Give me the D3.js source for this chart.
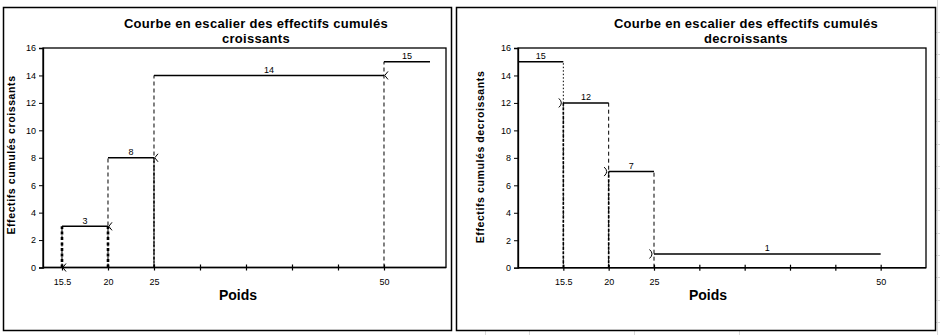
<!DOCTYPE html>
<html>
<head>
<meta charset="utf-8">
<script src="https://cdn.jsdelivr.net/npm/d3@7"></script>
<style>
  html, body { margin: 0; padding: 0; background: #fff; }
  svg { display: block; font-family: "Liberation Sans", Arial, sans-serif; }
</style>
</head>
<body>
<svg id="chart" width="940" height="335"></svg>
<script>
// Category axis: class bounds of "Poids" (blank slots keep the spacing)
const categories = ["15.5", "20", "25", "", "", "", "", "50"];   // slots 1..8
const yTicks = [0, 2, 4, 6, 8, 10, 12, 14, 16];

// Increasing cumulative counts: each step starts at a slot and ends at the next bound
const upStart = [1, 2, 3, 8];
const upEnd = [2, 3, 8, 9];
const upValues = [3, 8, 14, 15];

// Decreasing cumulative counts
const downStart = [0, 1, 2, 3];
const downEnd = [1, 2, 3, 8];
const downValues = [15, 12, 7, 1];

const svg = d3.select("#chart");

// faint worksheet grid behind the chart objects
const grid = svg.append("g").attr("stroke", "#d9d9d9").attr("stroke-width", 1);
d3.range(32, 335, 22.3).forEach(y => {
  grid.append("line").attr("x1", 936).attr("x2", 940).attr("y1", Math.round(y) + 0.5).attr("y2", Math.round(y) + 0.5);
});
grid.append("line").attr("x1", 937.5).attr("x2", 937.5).attr("y1", 0).attr("y2", 335);
[485, 529, 634, 739].forEach(x => {
  grid.append("line").attr("x1", x + 0.5).attr("x2", x + 0.5).attr("y1", 331).attr("y2", 335);
});

function drawPanel(opt) {
  const g = svg.append("g");

  // chart frame
  g.append("rect")
    .attr("x", opt.frame[0] + 0.5).attr("y", opt.frame[1] + 0.5)
    .attr("width", opt.frame[2] - opt.frame[0]).attr("height", opt.frame[3] - opt.frame[1])
    .attr("fill", "#fff").attr("stroke", "#000").attr("stroke-width", 1.5);

  const x = d3.scaleLinear().domain(opt.xDomain).range([opt.plot[0], opt.plot[2]]);
  const y = d3.scaleLinear().domain([0, 16]).range([opt.plot[3], opt.plot[1]]);

  // plot area border
  g.append("rect")
    .attr("x", opt.plot[0]).attr("y", opt.plot[1])
    .attr("width", opt.plot[2] - opt.plot[0]).attr("height", opt.plot[3] - opt.plot[1])
    .attr("fill", "none").attr("stroke", "#000").attr("stroke-width", 1.3);

  // y axis
  const yAxis = d3.axisLeft(y).tickValues(yTicks).tickSize(4).tickPadding(3).tickFormat(d3.format("d"));
  const ya = g.append("g").attr("transform", `translate(${opt.plot[0]},0)`).call(yAxis);
  ya.select(".domain").attr("stroke-width", 1.3);
  ya.selectAll("text").attr("font-size", 9).attr("font-family", "Liberation Sans, Arial, sans-serif").attr("fill", "#000");

  // x axis (category slots, ticks crossing the axis line)
  const slots = categories.map((c, i) => i + 1);
  const xAxis = d3.axisBottom(x).tickValues(slots).tickSize(3).tickPadding(8)
    .tickFormat((d, i) => categories[i]);
  const xa = g.append("g").attr("transform", `translate(0,${opt.plot[3]})`).call(xAxis);
  xa.select(".domain").remove();
  xa.selectAll(".tick line").attr("y1", -3).attr("y2", 3).attr("stroke-width", 1.2);
  xa.selectAll("text").attr("font-size", 9).attr("font-family", "Liberation Sans, Arial, sans-serif").attr("fill", "#000");
  g.append("line").attr("x1", opt.plot[0]).attr("x2", opt.plot[2])
    .attr("y1", opt.plot[3]).attr("y2", opt.plot[3]).attr("stroke", "#000").attr("stroke-width", 1.5);

  // titles
  const t = g.append("text").attr("text-anchor", "middle").attr("font-weight", "bold").attr("font-size", 13)
    .attr("letter-spacing", 0.3);
  t.append("tspan").attr("x", opt.titleX).attr("y", 28).text("Courbe en escalier des effectifs cumulés");
  t.append("tspan").attr("x", opt.titleX).attr("y", 43).text(opt.title2);

  g.append("text").attr("x", opt.xTitleX).attr("y", 300).attr("text-anchor", "middle")
    .attr("font-weight", "bold").attr("font-size", 14).text("Poids");

  g.append("text")
    .attr("transform", `translate(${opt.yTitleX},${opt.yTitleY}) rotate(-90)`)
    .attr("text-anchor", "middle").attr("font-weight", "bold").attr("font-size", 10.5)
    .attr("letter-spacing", 0.6)
    .text(opt.yTitle);

  return { g, x, y };
}

// ---- Left: courbe croissante ----
{
  const { g, x, y } = drawPanel({
    frame: [3, 7, 451, 330],
    plot: [43, 48, 446, 267.5],
    xDomain: [0.587, 9.348],
    titleX: 256, title2: "croissants",
    xTitleX: 238,
    yTitle: "Effectifs cumulés croissants", yTitleX: 15, yTitleY: 155
  });

  // vertical risers from the axis up to each step (dashed)
  upStart.forEach((s, i) => {
    g.append("line").attr("x1", x(s)).attr("x2", x(s)).attr("y1", y(0)).attr("y2", y(upValues[i]))
      .attr("stroke", "#000").attr("stroke-width", 1).attr("stroke-dasharray", "4,3");
  });
  // overlapping lower parts of the first risers
  const heavyTop = [upValues[0], upValues[0], upValues[1]];
  heavyTop.forEach((v, i) => {
    const s = upStart[i];
    g.append("line").attr("x1", x(s)).attr("x2", x(s)).attr("y1", y(0)).attr("y2", y(v))
      .attr("stroke", "#000")
      .attr("stroke-width", i < 2 ? 2.6 : 1.4)
      .attr("stroke-dasharray", i < 2 ? "3,2.5" : "3,1");
  });

  // horizontal steps
  upStart.forEach((s, i) => {
    g.append("line").attr("x1", x(s)).attr("x2", x(upEnd[i])).attr("y1", y(upValues[i])).attr("y2", y(upValues[i]))
      .attr("stroke", "#000").attr("stroke-width", 1.5);
    g.append("text").attr("x", (x(s) + x(upEnd[i])) / 2).attr("y", y(upValues[i]) - 2.5)
      .attr("text-anchor", "middle").attr("font-size", 9).text(upValues[i]);
  });

  // open "<" markers at each jump (previous level)
  upStart.forEach((s, i) => {
    const v = i === 0 ? 0 : upValues[i - 1];
    const px = x(s), py = y(v);
    g.append("path").attr("d", `M${px + 4},${py - 4}L${px + 0.8},${py}L${px + 4},${py + 4}`)
      .attr("fill", "none").attr("stroke", "#000").attr("stroke-width", 1);
  });
}

// ---- Right: courbe décroissante ----
{
  const { g, x, y } = drawPanel({
    frame: [456, 7, 935, 330],
    plot: [518, 48, 926, 267.7],
    xDomain: [0, 9],
    titleX: 746, title2: "decroissants",
    xTitleX: 708,
    yTitle: "Effectifs cumulés decroissants", yTitleX: 484, yTitleY: 157
  });

  // vertical drops at the end of each step except the last
  downEnd.slice(0, 3).forEach((e, i) => {
    g.append("line").attr("x1", x(e)).attr("x2", x(e)).attr("y1", y(0)).attr("y2", y(downValues[i]))
      .attr("stroke", "#000").attr("stroke-width", 1)
      .attr("stroke-dasharray", i === 0 ? "1.5,2" : "4,3");
    if (i < 2) {
      g.append("line").attr("x1", x(e)).attr("x2", x(e)).attr("y1", y(0)).attr("y2", y(downValues[i + 1]))
        .attr("stroke", "#000").attr("stroke-width", 1.6).attr("stroke-dasharray", "3,1.5");
    }
  });

  // horizontal steps
  downStart.forEach((s, i) => {
    g.append("line").attr("x1", x(s)).attr("x2", x(downEnd[i])).attr("y1", y(downValues[i])).attr("y2", y(downValues[i]))
      .attr("stroke", "#000").attr("stroke-width", 1.5);
    g.append("text").attr("x", (x(s) + x(downEnd[i])) / 2).attr("y", y(downValues[i]) - 2.5)
      .attr("text-anchor", "middle").attr("font-size", 9).text(downValues[i]);
  });

  // open ")" markers where each lower level starts
  downStart.slice(1).forEach((s, i) => {
    const px = x(s), py = y(downValues[i + 1]);
    g.append("path").attr("d", `M${px - 4.5},${py - 4.5}Q${px + 0.5},${py} ${px - 4.5},${py + 4.5}`)
      .attr("fill", "none").attr("stroke", "#000").attr("stroke-width", 1);
  });
}
</script>
</body>
</html>
